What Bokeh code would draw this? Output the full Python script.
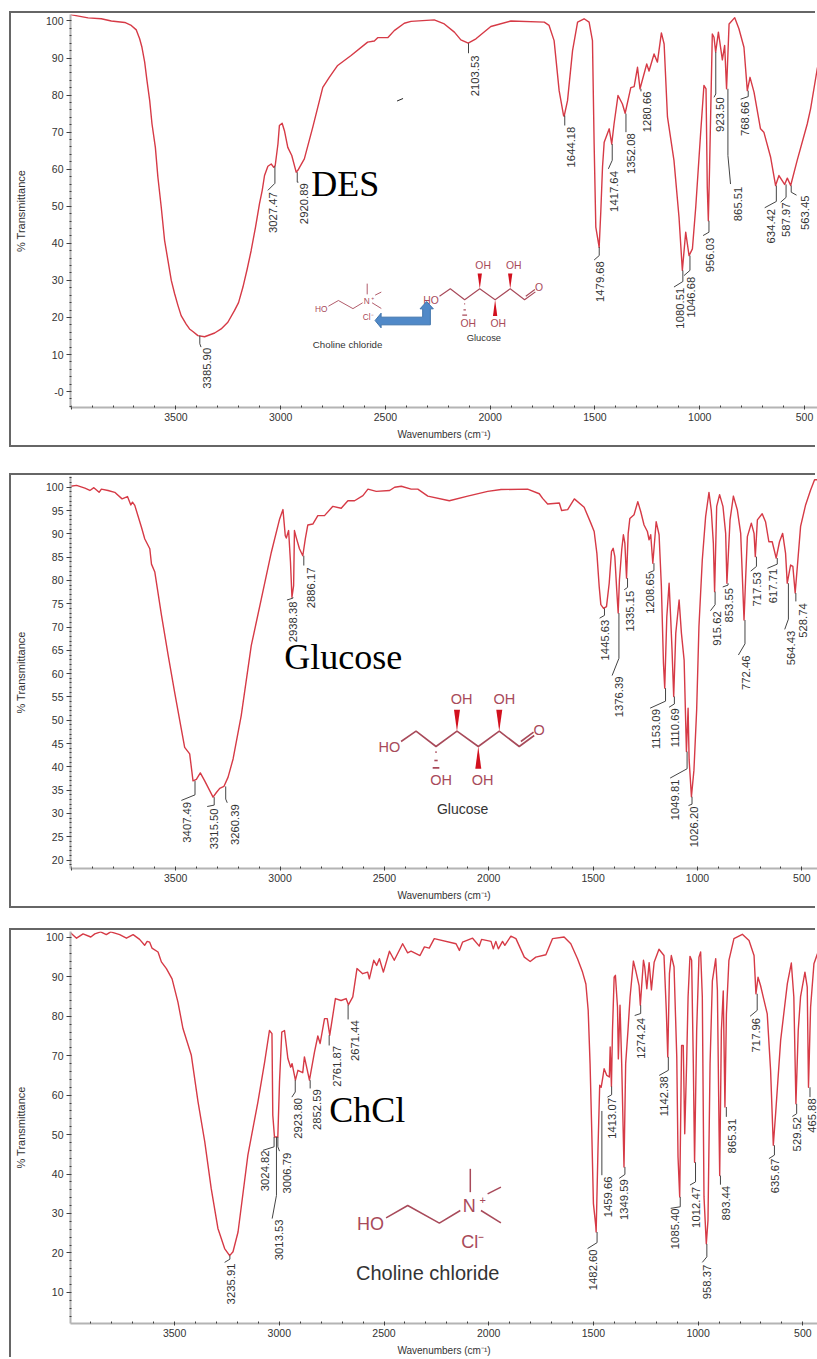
import math
from bokeh.plotting import figure
from bokeh.layouts import column
from bokeh.models import Range1d, SingleIntervalTicker
from bokeh.core.properties import value
from bokeh.embed import file_html
from bokeh.resources import INLINE

# ---------- DES spectrum ----------
des_wn = [4003,3919,3856,3808,3744,3713,3689,3673,3662,3649,3638,3625,3614,3598,3586,3570,3554,3538,3522,3506,3490,3475,3451,3435,3419,3395,3363,3315,3284,3252,3220,3201,3180,3160,3141,3120,3101,3088,3077,3061,3045,3033,3026,3013,3006,2993,2982,2966,2947,2926,2918,2887,2847,2823,2799,2768,2728,2664,2585,2553,2537,2489,2458,2410,2378,2267,2219,2171,2140,2105,2068,1997,1901,1742,1719,1695,1671,1650,1647,1631,1607,1583,1552,1528,1512,1504,1496,1480,1472,1464,1456,1432,1420,1409,1390,1369,1356,1329,1313,1297,1285,1253,1242,1218,1202,1183,1170,1154,1123,1099,1083,1067,1051,1035,1019,996,980,970,964,959,953,940,932,924,911,892,881,872,860,833,813,789,773,760,741,710,694,662,638,622,595,582,566,535,487,471,438]
des_t = [101.7,100.85,100.6,100,99.6,98.8,97.6,95.2,92.9,88.9,83.9,78.5,72.2,65.9,57.9,49.8,40.8,35.4,30,26.4,23.2,20.5,18.2,16.9,16.2,15.1,14.8,15.8,16.9,18.7,21.9,24,28.2,33,38,44.4,50.7,54.3,58.3,60.8,61.4,60.5,61,66.8,71.8,72.4,70.4,65.9,63.7,59.2,59.7,62.8,71.3,76.7,82.1,84.8,88,90.7,94.3,94.6,95.5,95.5,97.4,99.4,99.9,100.3,99.2,97,94.9,94,95.2,98.5,100,99.7,98.8,94.7,81.2,74.5,74.3,78.5,92,99.7,100.6,99.7,94.7,66.8,44.4,38.9,48.8,60.6,67.3,70.9,66.8,72.2,79.9,77.6,75.1,82,82.3,87.5,81.7,88.4,86.5,91.1,88.9,96.8,93.8,74.1,62.4,47.1,32.7,43,36.7,38.5,49.8,69.5,82.6,81.7,55.1,46.1,60.6,96.5,95.6,91.6,97,89.5,93.4,81.7,99.2,100.9,97.9,92.9,81.2,84.8,80.8,70.9,70,63.3,55.6,58.3,55.9,57.6,55.6,62.4,72.2,76.3,87.5]
des_peak_labels = ["3385.90","3027.47","2920.89","2103.53","1644.18","1479.68","1417.64","1352.08","1280.66","1080.51","1046.68","956.03","923.50","865.51","768.66","634.42","587.97","563.45"]
des_leader_top = [15.1,60.8,59.2,94,74.5,39,66.8,75,81.7,32.7,36.7,46.1,91.6,81.7,81.2,55.6,55.9,55.6]
des_leader_knee = [12.9,56.2,56.5,91.3,71.8,36.7,62.4,70,81,29.7,32.7,43,80.3,63.7,79.6,51.3,52.4,53.8]
des_leader_end_wn = [3380,3061,2915,2103.53,1644.18,1504,1436,1352.08,1280.66,1123,1075,984,932,853,805,690,614,538]
des_leader_end_t = [12,54.3,56.5,91.3,71.8,35.5,60.1,70,81,28.2,31.3,42.1,79.4,56,78.9,49.6,51.1,53]
des_label_wn = [3352,3037,2891,2071,1614,1475,1409,1329,1250,1094,1040,953,903,816,786,662,586,500]
des_label_t = [11.8,53.8,56.2,90.7,71.5,35.2,59.5,69.7,81,28,31,41.5,79.4,55.3,78.3,49.3,51,52.9]

# ---------- Glucose spectrum ----------
glu_wn = [4004,3975,3935,3911,3892,3867,3856,3824,3792,3757,3731,3715,3707,3696,3664,3648,3624,3616,3600,3568,3536,3505,3473,3457,3433,3417,3401,3382,3361,3337,3321,3305,3289,3269,3249,3225,3186,3138,3090,3042,3002,2986,2975,2970,2959,2950,2943,2935,2931,2923,2907,2891,2879,2867,2843,2819,2787,2747,2707,2675,2643,2603,2579,2539,2475,2451,2419,2372,2340,2292,2189,2101,2005,1941,1814,1758,1742,1718,1662,1651,1622,1590,1543,1511,1495,1482,1471,1463,1450,1436,1423,1412,1404,1396,1387,1380,1374,1363,1355,1348,1340,1332,1324,1304,1286,1272,1256,1240,1232,1224,1214,1198,1184,1173,1163,1157,1147,1136,1128,1122,1114,1104,1088,1077,1064,1053,1045,1040,1029,1017,1004,993,977,961,945,934,924,918,908,894,878,865,859,844,828,809,793,777,769,761,742,729,723,713,690,674,658,642,623,607,592,578,570,554,543,532,519,506,482,458,439,425]
glu_t = [100.2,100.4,99.8,99.3,99.9,98.9,99.6,99.3,98.9,97.5,98,96.2,96.8,96.1,91.4,88.9,86.8,83.5,81.8,72.5,63.9,56,48.1,44.2,42.8,37,37.3,38.7,37,34.9,33.5,34.5,35.4,35.8,37.8,41.7,51,66,76,86,93.2,95.2,89.6,89.1,90.7,83.9,76.4,78.9,90.7,89.3,86.8,85.3,88.9,91.9,92.1,93.9,93.9,95.9,95.5,97.1,97.1,98.2,99.6,99.1,99.3,100,100.2,99.6,99.6,98.1,97.1,98.1,99.1,99.5,99.6,98.6,97.6,96.4,96.6,95,95.2,97.5,95.7,92.3,90.5,85.8,78.7,74.8,74,74.4,79.4,86.2,86.9,85.1,78,73,80.1,86.6,89.8,88,80.5,90.1,93.3,94.1,96.9,94.8,91.9,90.5,88.7,89.8,83.7,92.6,89.8,78.7,62.2,56.9,72.2,79.4,71.5,65.1,55.1,68.7,75.8,68.7,62.9,43.3,52.6,41.5,33.6,39.3,52.2,70.1,84.4,93.7,98.9,95.1,88,77.6,95.9,98.4,95.9,90.1,79.4,93,98.1,95.1,90.1,71.5,80.8,89.4,92.3,90.1,85.1,93,94.3,92.6,88.3,88.3,84.8,88.3,90.1,85.8,79.4,83.3,83,77.3,84.4,91.6,96.2,99.4,101.6,101.6]
glu_peak_labels = ["3407.49","3315.50","3260.39","2938.38","2886.17","1445.63","1376.39","1335.15","1208.65","1153.09","1110.69","1049.81","1026.20","915.62","853.55","772.46","717.53","617.71","564.43","528.74"]
glu_leader_top = [37,33.5,35.8,76.4,85.3,74,73,80.5,83.7,56.9,55.1,43.3,33.6,77.6,79.4,71.5,85.1,84.8,79.4,77.3]
glu_leader_knee = [34,31.8,33.1,76.2,83.2,72.5,63.3,78.5,82.1,54.1,53.5,39.6,32,74.8,79.0,66.4,83,83.5,71.7,75.5]
glu_leader_end_wn = [3473,3349,3253,2967,2886.17,1469,1409,1351,1236,1227,1136,1131,1043,938,879,804,745,665,582,528.74]
glu_leader_end_t = [32.8,31.5,32.3,75.8,83.2,71.9,59.6,78,81.6,52.6,52.8,37.6,31.7,73.5,78.6,64,82,82.6,69.5,75.5]
glu_label_wn = [3447,3318,3218,2938,2854,1442,1377,1322,1227,1200,1109,1109,1016,908,847,767,713,637,551,495]
glu_label_t = [32.5,31.1,32,75.5,82.8,71.6,59.4,77.8,81.6,52.4,52.6,37.3,31.5,73.4,78.4,63.9,81.8,82.5,69.2,75.1]

# ---------- Choline chloride spectrum ----------
chl_wn = [3997,3968,3937,3900,3881,3853,3826,3805,3762,3730,3698,3667,3643,3631,3619,3608,3579,3563,3539,3512,3484,3460,3420,3388,3356,3325,3293,3261,3237,3221,3197,3150,3102,3070,3047,3035,3031,3023,3007,2999,2988,2975,2959,2946,2939,2923,2911,2888,2880,2856,2832,2816,2805,2784,2771,2759,2732,2705,2681,2670,2649,2629,2602,2578,2570,2549,2535,2522,2503,2474,2451,2411,2387,2371,2328,2307,2284,2260,2156,2140,2125,2077,2045,2034,1989,1978,1966,1954,1934,1923,1894,1870,1830,1802,1775,1727,1695,1640,1608,1576,1552,1536,1525,1516,1508,1500,1489,1487,1478,1470,1463,1455,1449,1436,1424,1420,1414,1409,1401,1395,1385,1381,1373,1365,1354,1346,1335,1325,1309,1298,1282,1276,1261,1255,1245,1234,1223,1210,1187,1163,1152,1145,1137,1128,1115,1102,1096,1088,1079,1071,1064,1055,1048,1039,1031,1023,1017,1007,996,988,980,972,961,953,943,932,916,908,900,897,889,880,872,865,853,829,789,757,733,724,714,702,670,654,641,630,606,574,555,543,533,522,511,490,479,473,463,447,430]
chl_t = [101.2,99.8,100.9,100.1,100.9,101.4,100.7,101.4,100.7,99.8,100.7,99.5,98,99,98.8,97.3,96.3,93.8,92.1,89.5,83.6,76.9,70.1,58.3,48.2,36.3,26.2,21.1,19.3,20.3,25.3,44.8,58.3,68.4,76.4,75.6,54.9,49.4,49.4,63.3,76,76.4,69.3,67.1,68,63.8,66.3,65.7,69.7,63.8,70.9,75,73.1,79.4,79.4,75.2,84.5,84,84.5,82.9,84.9,92.1,90.8,91.2,89.5,94.2,92.9,94.6,91.2,96.5,94.2,98.4,96.1,96.5,95.4,97.6,97.3,99.7,98.4,96.7,98.8,99.8,97.8,99.5,99,97.1,99,97.1,99,98,100.3,99.7,95,93.9,95,95.6,99.7,100.1,98.4,94.6,91.2,88.2,81.5,68,51,32.5,27,25.3,46.8,62.5,62,64.6,66.7,65,64.6,72.2,62.2,76.4,89.9,90.4,82.3,69.2,82.8,68,41.8,68,76.4,84.9,94,91.6,87.8,82.8,94.2,92.5,87,93.6,86.7,93.7,97,95.4,81.5,69.7,90.8,95.4,92.5,69.7,44.3,34.2,72.6,72.6,50.2,68,84.9,95.2,94.2,68,43,76.4,95,96.3,84.9,34.2,22.3,28.2,68,89,94.6,86.6,51,39.6,76.4,86.4,57,80.6,94.2,99.7,100.8,99.2,95.4,85.7,89.9,87.8,80.6,66.3,47.3,55.3,73.9,88.3,93.5,84.9,57.8,76.4,84.9,91.2,87.4,62,82.3,93.3,95.9]
chl_peak_labels = ["3235.91","3024.82","3013.53","3006.79","2923.80","2852.59","2761.87","2671.44","1482.60","1459.66","1413.07","1349.59","1274.24","1142.38","1085.40","1012.47","958.37","893.44","865.31","717.96","635.67","529.52","465.88"]
chl_leader_top = [19.3,49.4,49.4,49.4,63.8,63.8,75.2,82.9,25.3,56,62.2,41.8,82.8,69.7,34.2,43,22.3,39.6,57,85.7,47.3,57.8,62]
chl_leader_knee = [18.4,46.9,34.6,46.9,60.8,61.7,72.6,79.2,22.6,39.7,60.1,39.9,80.7,66.3,31.7,38,19,37.3,54.5,81.5,44.8,55.3,59.5]
chl_leader_end_wn = [3261,3078,3034,2999,2940,2852.59,2761.87,2671.44,1528,1459.66,1433,1377,1303,1186,1131,1039,980,893.44,865.31,752,662,550,465.88]
chl_leader_end_t = [17.6,46,28.7,45.8,59.5,61.7,72.6,79.2,21.1,39.7,59.5,38.9,80.2,65,31.3,37.2,17.6,37.3,54.5,80,43.9,54.6,59.5]
chl_label_wn = [3229,3067,3001,2962,2911,2821,2726,2638,1500,1428,1409,1353,1274,1161,1110,1008,956,865,837,725,633,527,456]
chl_label_t = [17.3,46,28.5,45.4,59.3,61.5,72.5,79,20.9,39.4,59.3,38.7,79.6,64.8,31.3,36.7,17,37,54,79.6,43.9,54.5,59.2]

x_axis_title = "Wavenumbers (cm\u207b\u00b9)"
y_axis_title = "% Transmittance"
SANS = "Liberation Sans"
SERIF = "Liberation Serif"
INK = "#333333"
RED = "#d63a46"
LEAD = "#444444"
CHEM = "#a84a5a"
WEDGE = "#d2101e"
FRAME = "#666666"
FIG_LEFT = 11
W = 817 - FIG_LEFT
BOTH = f"-2px -2px 0 0 {FRAME}, -2px 2px 0 0 {FRAME}"
TOP_ONLY = f"-2px -2px 0 0 {FRAME}"


def panel(page_top, page_bottom, top_px, bottom_px, xr, yr, y_step, wn, t, labels, ltop, lknee, lendx, lendy, labx, laby, margin_top, shadow):
    p = figure(width=W, height=page_bottom - page_top, output_backend="svg", toolbar_location=None,
               x_range=Range1d(*xr), y_range=Range1d(*yr),
               min_border_left=69 - FIG_LEFT, min_border_right=0,
               min_border_top=top_px - page_top, min_border_bottom=page_bottom - bottom_px,
               outline_line_color=None, background_fill_color="white",
               margin=(margin_top, 0, 0, FIG_LEFT))
    p.styles = {"box-shadow": shadow}
    p.grid.visible = False
    for ax, title in ((p.xaxis[0], x_axis_title), (p.yaxis[0], y_axis_title)):
        ax.axis_label = title
        ax.axis_label_text_font = SANS
        ax.axis_label_text_font_style = "normal"
        ax.axis_label_text_color = INK
        ax.major_label_text_font = SANS
        ax.major_label_text_color = INK
        ax.major_label_text_font_size = "10.5px"
        ax.axis_line_color = "#b4b4b4"
        ax.axis_line_width = 2
        ax.major_tick_line_color = "#404040"
        ax.minor_tick_line_color = "#404040"
    xa, ya = p.xaxis[0], p.yaxis[0]
    xa.ticker = SingleIntervalTicker(interval=500, num_minor_ticks=5)
    ya.ticker = SingleIntervalTicker(interval=y_step, num_minor_ticks=5)
    xa.major_tick_out, xa.major_tick_in = 2, 1
    xa.minor_tick_out, xa.minor_tick_in = 0, 2
    ya.major_tick_out, ya.major_tick_in = 4, 0
    ya.minor_tick_out, ya.minor_tick_in = 1, 1
    xa.major_label_standoff = 3
    ya.major_label_standoff = 3
    xa.axis_label_text_font_size = "10px"
    ya.axis_label_text_font_size = "11px"
    xa.axis_label_standoff = 5
    ya.axis_label_standoff = 16
    ya.major_label_overrides = {0: "-0"}
    xa.major_label_overrides = {4000: ""}

    p.line(wn, t, line_color=RED, line_width=1.4, line_join="round")

    wn_peak = [float(s) for s in labels]
    p.multi_line([[a, a, c] for a, c in zip(wn_peak, lendx)],
                 [[b, k, d] for b, k, d in zip(ltop, lknee, lendy)],
                 line_color=LEAD, line_width=1)
    p.text(labx, laby, text=labels, angle=math.pi / 2, text_align="right", text_baseline="middle",
           text_font=value(SANS), text_font_size=value("11.3px"), text_color=INK)
    return p


p1 = panel(13, 445, 14, 407, (4003, 438), (-4.3, 101.75), 10, des_wn, des_t, des_peak_labels,
           des_leader_top, des_leader_knee, des_leader_end_wn, des_leader_end_t, des_label_wn, des_label_t, 13, BOTH)
p2 = panel(475, 906, 476, 868, (4004, 425), (18.2, 102.3), 5, glu_wn, glu_t, glu_peak_labels,
           glu_leader_top, glu_leader_knee, glu_leader_end_wn, glu_leader_end_t, glu_label_wn, glu_label_t, 30, BOTH)
p3 = panel(930, 1359, 931, 1323, (3997, 430), (2.1, 101.5), 10, chl_wn, chl_t, chl_peak_labels,
           chl_leader_top, chl_leader_knee, chl_leader_end_wn, chl_leader_end_t, chl_label_wn, chl_label_t, 24, TOP_ONLY)


def mapper(p, top_px, bottom_px):
    xr, yr = p.x_range, p.y_range
    fx = lambda px: xr.start + (px - 69) * (xr.end - xr.start) / (817 - 69)
    fy = lambda py: yr.end + (py - top_px) * (yr.start - yr.end) / (bottom_px - top_px)
    return fx, fy


def draw_segments(p, fx, fy, segs, color, width):
    p.multi_line([[fx(a[0]) for a in s] for s in segs], [[fy(a[1]) for a in s] for s in segs],
                 line_color=color, line_width=width)


def draw_text(p, fx, fy, px, py, txt, size, color=CHEM, font=SANS, align="center"):
    p.text([fx(px)], [fy(py)], text=[txt], text_align=align, text_baseline="middle",
           text_font=value(font), text_font_size=value(size), text_color=color)


def choline(p, fx, fy, ox, oy, s, lab_y, lab_size):
    P = lambda x, y: (ox + s * x / 3, oy + s * y / 3)
    draw_segments(p, fx, fy, [[P(135, 172), P(200, 135), P(295, 188), P(358, 150)],
                              [P(388, 25), P(388, 95)], [P(440, 100), P(480, 80)], [P(420, 150), P(480, 187)]],
                  CHEM, 1.5 * max(s, 0.6))
    fs = f"{18 * s:.1f}px"
    draw_text(p, fx, fy, *P(88, 190), "HO", fs)
    draw_text(p, fx, fy, *P(385, 135), "N", fs)
    draw_text(p, fx, fy, *P(425, 118), "+", f"{11 * s:.1f}px")
    draw_text(p, fx, fy, *P(395, 245), "Cl\u207b", fs)
    draw_text(p, fx, fy, *P(260, lab_y), "Choline chloride", lab_size, INK)


def glucose(p, fx, fy, ox, oy, s, lab_y, lab_size):
    P = lambda x, y: (ox + s * x / 3, oy + s * y / 3)
    draw_segments(p, fx, fy, [[P(90, 183), P(135, 152), P(195, 198), P(258, 152), P(322, 198), P(385, 152), P(445, 198), P(490, 165)],
                              [P(450, 183), P(488, 155)]], CHEM, 1.6 * max(s, 0.7))
    tri = [((258, 152), (249, 88), (267, 88)), ((385, 152), (376, 88), (394, 88)), ((322, 198), (313, 265), (331, 265))]
    p.patches([[fx(P(*a)[0]) for a in t] for t in tri], [[fy(P(*a)[1]) for a in t] for t in tri],
              fill_color=WEDGE, line_color=None)
    hash_y = [(215, 2), (240, 5), (262, 10)]
    draw_segments(p, fx, fy, [[P(195 - w, y), P(195 + w, y)] for y, w in hash_y], CHEM, 1.6 * max(s, 0.7))
    fs = f"{14.5 * s:.1f}px"
    draw_text(p, fx, fy, *P(55, 200), "HO", fs)
    for x, y in ((272, 55), (400, 55), (210, 298), (335, 298)):
        draw_text(p, fx, fy, *P(x, y), "OH", fs)
    draw_text(p, fx, fy, *P(505, 148), "O", fs)
    draw_text(p, fx, fy, *P(275, lab_y), "Glucose", lab_size, INK)


f1x, f1y = mapper(p1, 14, 407)
f2x, f2y = mapper(p2, 476, 868)
f3x, f3y = mapper(p3, 931, 1323)

draw_text(p1, f1x, f1y, 310, 183, "DES", "36px", "#000000", SERIF, "left")
draw_text(p2, f2x, f2y, 283, 656, "Glucose", "36px", "#000000", SERIF, "left")
draw_text(p3, f3x, f3y, 328, 1109, "ChCl", "36px", "#000000", SERIF, "left")

choline(p1, f1x, f1y, 306.6, 279.3, 0.46, 420, "9.7px")
glucose(p1, f1x, f1y, 416.9, 251.8, 0.72, 355, "9.4px")
glucose(p2, f2x, f2y, 370, 680, 1.0, 385, "14px")
choline(p3, f3x, f3y, 340, 1160, 1.0, 338, "20px")

# Hydrogen-bond arrow of the DES panel
arrow = [(222, 165), (240, 143), (240, 155), (365, 155), (365, 130), (357, 130), (377, 108), (397, 130), (388, 130), (388, 178), (240, 178), (240, 187)]
p1.patch([f1x(300 + a / 3) for a, _ in arrow], [f1y(265 + b / 3) for _, b in arrow],
         fill_color="#5089c8", line_color="#3f74ac", line_width=1)
p1.line([f1x(396), f1x(402)], [f1y(100.5), f1y(98)], line_color="#222222", line_width=1)

layout = column(p1, p2, p3, spacing=0)
open("out.html", "w").write(file_html(layout, INLINE))
